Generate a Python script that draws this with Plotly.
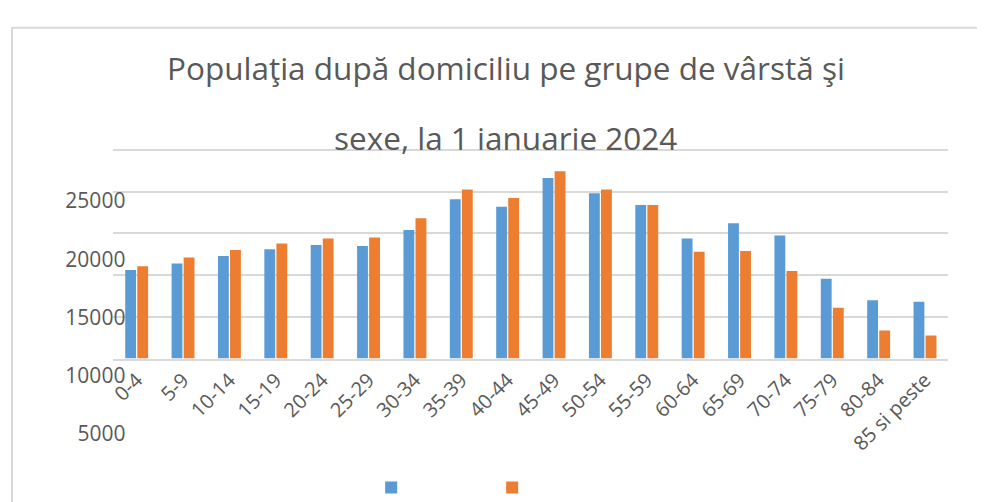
import plotly.graph_objects as go

categories = ["0-4", "5-9", "10-14", "15-19", "20-24", "25-29", "30-34", "35-39",
              "40-44", "45-49", "50-54", "55-59", "60-64", "65-69", "70-74",
              "75-79", "80-84", "85 si peste"]
series_blue = [10600, 11400, 12300, 13100, 13600, 13500, 15400, 19100, 18200,
               21650, 19800, 18400, 14400, 16200, 14750, 9550, 7000, 6800]
series_orange = [11050, 12100, 13000, 13800, 14400, 14500, 16800, 20250, 19250,
                 22450, 20250, 18400, 12800, 12900, 10500, 6100, 3350, 2750]
grid_values = [0, 5000, 10000, 15000, 20000, 25000]
tick_labels = ["0", "5000", "10000", "15000", "20000", "25000"]
title_line1 = "Populaţia după domiciliu pe grupe de vârstă şi"
title_line2 = "sexe, la 1 ianuarie 2024"

# page body has an 8px margin, so the figure starts at screen (8, 8)
OFF = 8
W, H = 985 - OFF, 502 - OFF


def fx(px):  # screen x pixel -> paper fraction
    return (px - OFF) / W


def fy(py):  # screen y pixel -> paper fraction
    return 1 - (py - OFF) / H


FONT = "Open Sans"
TXT = "#595959"
GRID = "#d9d9d9"

# slightly extended range so the top gridline (25000) is drawn
YTOP = 25200
y_top_px = 357 - (357 - 140) * YTOP / 25000

fig = go.Figure()
fig.add_trace(go.Bar(x=categories, y=series_blue, name="", marker_color="#5B9BD5",
                     marker_line_width=0))
fig.add_trace(go.Bar(x=categories, y=series_orange, name="", marker_color="#ED7D31",
                     marker_line_width=0))
# empty trace that carries the (offset) tick-label axis
fig.add_trace(go.Scatter(x=[], y=[], yaxis="y2", showlegend=False, hoverinfo="skip"))

fig.update_layout(
    width=W, height=H,
    margin=dict(l=0, r=0, t=0, b=0),
    paper_bgcolor="white",
    plot_bgcolor="rgba(0,0,0,0)",
    barmode="group",
    bargap=0.48,
    bargroupgap=0.1,
    font=dict(family=FONT, color=TXT),
    xaxis=dict(
        domain=[fx(109), fx(948)], anchor="y",
        showline=True, linecolor=GRID, linewidth=2,
        ticks="", tickangle=-45, showgrid=False,
        tickfont=dict(family=FONT, size=20, color=TXT),
    ),
    yaxis=dict(
        domain=[fy(357), fy(y_top_px)], range=[0, YTOP],
        tickvals=grid_values, showticklabels=False,
        gridcolor=GRID, gridwidth=2, zeroline=False, ticks="",
    ),
    yaxis2=dict(
        domain=[fy(496), fy(193)], range=[0, 25000],
        anchor="free", position=fx(121), side="left",
        tickvals=grid_values, ticktext=tick_labels,
        showgrid=False, zeroline=False, showline=False, ticks="",
        tickfont=dict(family=FONT, size=21, color=TXT),
    ),
    legend=dict(
        orientation="h", x=fx(368), xanchor="left", y=fy(491), yanchor="middle",
        entrywidth=76, entrywidthmode="pixels",
        font=dict(size=12, color=TXT), bgcolor="rgba(0,0,0,0)",
    ),
    showlegend=True,
    annotations=[
        dict(text=title_line1, x=fx(504), y=fy(54), xref="paper", yref="paper",
             xanchor="center", yanchor="middle", showarrow=False,
             font=dict(family=FONT, size=31.5, color=TXT)),
        dict(text=title_line2, x=fx(503), y=fy(127), xref="paper", yref="paper",
             xanchor="center", yanchor="middle", showarrow=False,
             font=dict(family=FONT, size=31.5, color=TXT)),
    ],
    shapes=[
        dict(type="rect", xref="paper", yref="paper",
             x0=fx(7), x1=fx(979), y0=-0.2, y1=fy(13),
             line=dict(color=GRID, width=2), fillcolor="rgba(0,0,0,0)", layer="below"),
    ],
)

fig.write_html("out.html")
